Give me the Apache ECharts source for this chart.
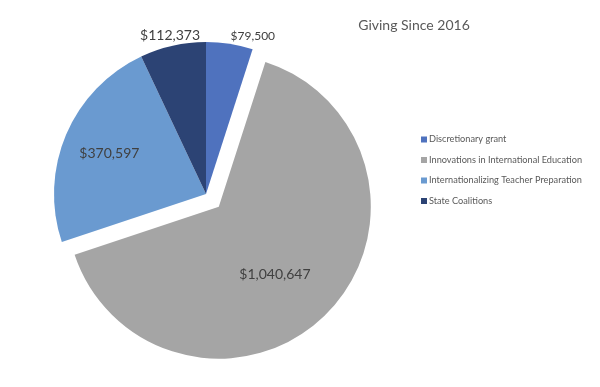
<!DOCTYPE html>
<html>
<head>
<meta charset="utf-8">
<script src="https://cdn.jsdelivr.net/npm/echarts@6/dist/echarts.min.js"></script>
<style>
html,body{margin:0;padding:0;background:#fff;}
#chart{width:600px;height:387px;}
</style>
</head>
<body>
<div id="chart"></div>
<script>
const categories = ['Discretionary grant', 'Innovations in International Education', 'Internationalizing Teacher Preparation', 'State Coalitions'];
const values = [79500, 1040647, 370597, 112373];
const colors = ['#4F72BE', '#A5A5A5', '#6A9AD0', '#2C4374'];
const labelTexts = ['$79,500', '$1,040,647', '$370,597', '$112,373'];

const FONT = 'Lato, "Open Sans", sans-serif';
const chart = echarts.init(document.getElementById('chart'), null, {renderer: 'canvas'});

const data = categories.map((c, i) => {
  const item = {name: c, value: values[i], itemStyle: {color: colors[i]}};
  if (i === 1) item.selected = true;
  if (i === 0 || i === 3) {
    item.label = {position: 'outside', fontSize: i === 0 ? 12 : 14};
  } else {
    item.label = {position: 'inside', fontSize: 14};
  }
  return item;
});

chart.setOption({
  animation: false,
  title: {
    text: 'Giving Since 2016',
    left: 409, top: 13, textAlign: 'center',
    textStyle: {fontFamily: FONT, fontSize: 14, fontWeight: 'normal', color: '#595959'}
  },
  legend: {
    orient: 'vertical',
    left: 416, top: 130,
    icon: 'rect', itemWidth: 6, itemHeight: 6, itemGap: 11.5,
    textStyle: {fontFamily: FONT, fontSize: 9.2, color: '#595959', padding: [0, 0, 0, -3]},
    data: categories
  },
  series: [{
    type: 'pie',
    center: [206, 194],
    radius: [0, 152],
    startAngle: 90,
    clockwise: true,
    selectedMode: 'single',
    selectedOffset: 18,
    data: data,
    label: {
      formatter: p => labelTexts[p.dataIndex],
      fontFamily: FONT,
      color: '#404040'
    },
    labelLine: {show: false, length: 8, length2: 0},
    labelLayout: function (p) {
      const w = p.labelRect.width;
      if (p.dataIndex === 0) return {dx: 17 - w / 2, dy: 0};
      if (p.dataIndex === 3) return {dx: w / 2 + 4, dy: -2};
      if (p.dataIndex === 2) return {dx: -24, dy: -9};
      return {dx: 0, dy: 12};
    },
    emphasis: {disabled: true},
    silent: true
  }]
});
</script>
</body>
</html>
